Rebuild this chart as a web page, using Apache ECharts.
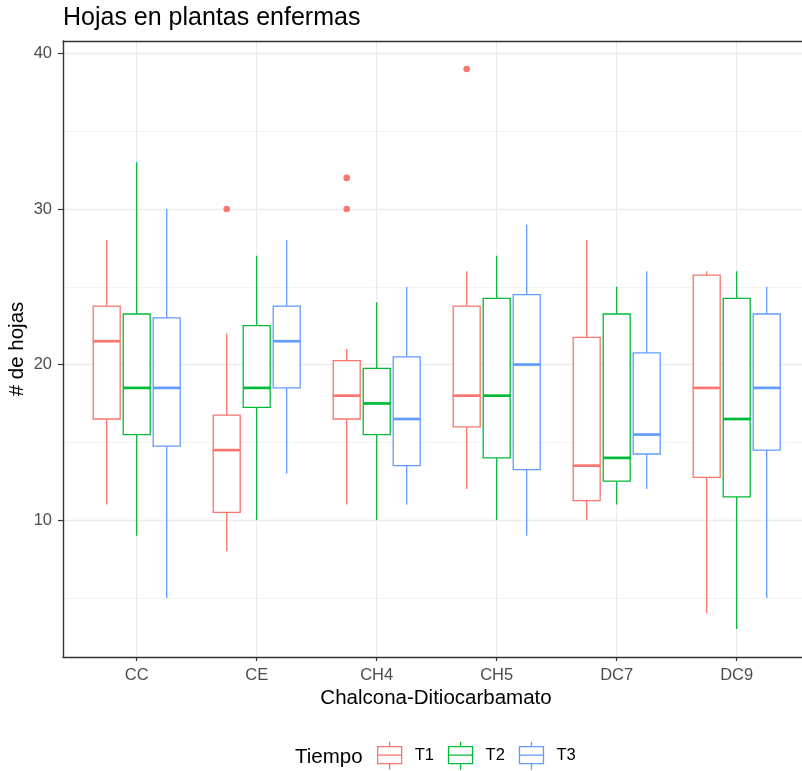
<!DOCTYPE html>
<html>
<head>
<meta charset="utf-8">
<script src="https://cdn.jsdelivr.net/npm/echarts@6/dist/echarts.min.js"></script>
<style>
html,body{margin:0;padding:0;background:#fff;}
#chart{width:802px;height:771px;}
</style>
</head>
<body>
<div id="chart"></div>
<script>
// ---- data ----
const categories = ['CC', 'CE', 'CH4', 'CH5', 'DC7', 'DC9'];
const groups = ['T1', 'T2', 'T3'];
// [min, Q1, median, Q3, max] per category
const t1Box = [[11, 16.5, 21.5, 23.75, 28], [8, 10.5, 14.5, 16.75, 22], [11, 16.5, 18, 20.25, 21], [12, 16, 18, 23.75, 26], [10, 11.25, 13.5, 21.75, 28], [4, 12.75, 18.5, 25.75, 26]];
const t2Box = [[9, 15.5, 18.5, 23.25, 33], [10, 17.25, 18.5, 22.5, 27], [10, 15.5, 17.5, 19.75, 24], [10, 14, 18, 24.25, 27], [11, 12.5, 14, 23.25, 25], [3, 11.5, 16.5, 24.25, 26]];
const t3Box = [[5, 14.75, 18.5, 23, 30], [13, 18.5, 21.5, 23.75, 28], [11, 13.5, 16.5, 20.5, 25], [9, 13.25, 20, 24.5, 29], [12, 14.25, 15.5, 20.75, 26], [5, 14.5, 18.5, 23.25, 25]];
// outliers: [category, value]
const t1Outliers = [['CE', 30], ['CH4', 30], ['CH4', 32], ['CH5', 39]];
const t2Outliers = [];
const t3Outliers = [];
const yTicks = [10, 20, 30, 40];
const yMinorTicks = [5, 15, 25, 35];
const yMin = 1.2, yMax = 40.8;
const colors = ['#F8766D', '#00BA38', '#619CFF'];

const boxes = [t1Box, t2Box, t3Box];
const outs = [t1Outliers, t2Outliers, t3Outliers];

const FONT = '"Liberation Sans", Arial, sans-serif';

function boxRender(k) {
  return function (params, api) {
    const band = api.size([1, 0])[0];
    const off = (k - 1) * band * 0.25;
    const hw = band * 0.225 / 2;
    const ci = api.value(0);
    const x = api.coord([ci, yMin])[0] + off;
    const yLo = api.coord([ci, api.value(1)])[1];
    const yQ1 = api.coord([ci, api.value(2)])[1];
    const yMd = api.coord([ci, api.value(3)])[1];
    const yQ3 = api.coord([ci, api.value(4)])[1];
    const yHi = api.coord([ci, api.value(5)])[1];
    const c = colors[k];
    return {
      type: 'group',
      children: [
        { type: 'line', shape: { x1: x, y1: yQ1, x2: x, y2: yLo }, style: { stroke: c, lineWidth: 1.3 } },
        { type: 'line', shape: { x1: x, y1: yQ3, x2: x, y2: yHi }, style: { stroke: c, lineWidth: 1.3 } },
        { type: 'rect', shape: { x: x - hw, y: yQ3, width: hw * 2, height: yQ1 - yQ3 }, style: { fill: '#fff', stroke: c, lineWidth: 1.3 } },
        { type: 'line', shape: { x1: x - hw, y1: yMd, x2: x + hw, y2: yMd }, style: { stroke: c, lineWidth: 2.7 } }
      ]
    };
  };
}
function outRender(k) {
  return function (params, api) {
    const band = api.size([1, 0])[0];
    const off = (k - 1) * band * 0.25;
    const p = api.coord([api.value(0), api.value(1)]);
    return { type: 'circle', shape: { cx: p[0] + off, cy: p[1], r: 3.3 }, style: { fill: colors[k] } };
  };
}

const series = [];
groups.forEach(function (g, k) {
  series.push({
    name: g, type: 'custom', xAxisIndex: 2, yAxisIndex: 2,
    renderItem: boxRender(k),
    encode: { x: 0, y: [1, 2, 3, 4, 5] },
    itemStyle: { color: colors[k] },
    data: boxes[k].map(function (b, i) { return [i].concat(b); })
  });
  if (outs[k].length) {
    series.push({
      name: g, type: 'custom', xAxisIndex: 2, yAxisIndex: 2,
      renderItem: outRender(k),
      encode: { x: 0, y: 1 },
      itemStyle: { color: colors[k] },
      data: outs[k].map(function (o) { return [categories.indexOf(o[0]), o[1]]; })
    });
  }
});

const iconPath = 'path://M12 0 L12 5 M0 5 L24 5 L24 22 L0 22 Z M0 13.5 L24 13.5 M12 22 L12 28';

const option = {
  animation: false,
  backgroundColor: '#ffffff',
  textStyle: { fontFamily: FONT },
  title: {
    text: 'Hojas en plantas enfermas', left: 63, top: 6, padding: 0,
    textStyle: { fontSize: 25, fontWeight: 'normal', color: '#000', fontFamily: FONT }
  },
  graphic: [{
    type: 'text', left: 295, top: 747,
    style: { text: 'Tiempo', fontSize: 20.5, fill: '#000', fontFamily: FONT }
  }],
  legend: {
    left: 377, top: 741, orient: 'horizontal', padding: 0,
    itemWidth: 24, itemHeight: 28, itemGap: 14,
    textStyle: { fontSize: 16.5, color: '#000', fontFamily: FONT, padding: [6, 0, 0, 8] },
    data: groups.map(function (g, k) {
      return { name: g, icon: iconPath, itemStyle: { color: '#ffffff', borderColor: colors[k], borderWidth: 1.3 } };
    })
  },
  grid: [
    { left: 63, top: 41, width: 746, height: 616, containLabel: false, outerBoundsMode: 'none' },
    { left: 136.7, top: 41, width: 600, height: 616, containLabel: false, outerBoundsMode: 'none' }
  ],
  xAxis: [
    {
      gridIndex: 0, type: 'value', min: 0, max: 1, position: 'bottom',
      axisLine: { show: true, lineStyle: { color: '#333333', width: 1.4 } },
      axisTick: { show: false }, axisLabel: { show: false }, splitLine: { show: false },
      name: 'Chalcona-Ditiocarbamato', nameLocation: 'middle', nameGap: 31, nameMoveOverlap: false,
      nameTextStyle: { fontSize: 20.5, color: '#000', fontFamily: FONT }
    },
    {
      gridIndex: 0, type: 'value', min: 0, max: 1, position: 'top',
      axisLine: { show: true, lineStyle: { color: '#333333', width: 1.4 } },
      axisTick: { show: false }, axisLabel: { show: false }, splitLine: { show: false }
    },
    {
      gridIndex: 1, type: 'category', data: categories, boundaryGap: false,
      axisLine: { show: false },
      axisTick: { show: true, length: 4, lineStyle: { color: '#333333', width: 1.2 } },
      axisLabel: { fontSize: 16.5, color: '#4D4D4D', margin: 10, fontFamily: FONT },
      splitLine: { show: true, lineStyle: { color: '#EBEBEB', width: 1.3 } }
    }
  ],
  yAxis: [
    {
      gridIndex: 0, type: 'value', min: yMin, max: yMax, splitNumber: 4,
      axisLine: { show: true, lineStyle: { color: '#333333', width: 1.4 } },
      axisTick: { show: true, length: 5, customValues: yTicks, lineStyle: { color: '#333333', width: 1.2 } },
      axisLabel: { fontSize: 16.5, color: '#4D4D4D', margin: 11, customValues: yTicks, fontFamily: FONT },
      splitLine: { show: true, lineStyle: { color: '#EBEBEB', width: 1.3 } },
      name: '# de hojas', nameLocation: 'middle', nameGap: 35, nameRotate: 90, nameMoveOverlap: false,
      nameTextStyle: { fontSize: 20.5, color: '#000', fontFamily: FONT }
    },
    {
      gridIndex: 0, type: 'value', min: yMin, max: yMax, splitNumber: 8, position: 'left',
      axisLine: { show: false }, axisLabel: { show: false },
      axisTick: { show: false, customValues: yMinorTicks },
      splitLine: { show: true, lineStyle: { color: '#F0F0F0', width: 0.9 } }
    },
    {
      gridIndex: 1, type: 'value', min: yMin, max: yMax, show: false,
      splitLine: { show: false }
    }
  ],
  series: series
};

const chart = echarts.init(document.getElementById('chart'), null, { renderer: 'canvas' });
chart.setOption(option);
</script>
</body>
</html>
